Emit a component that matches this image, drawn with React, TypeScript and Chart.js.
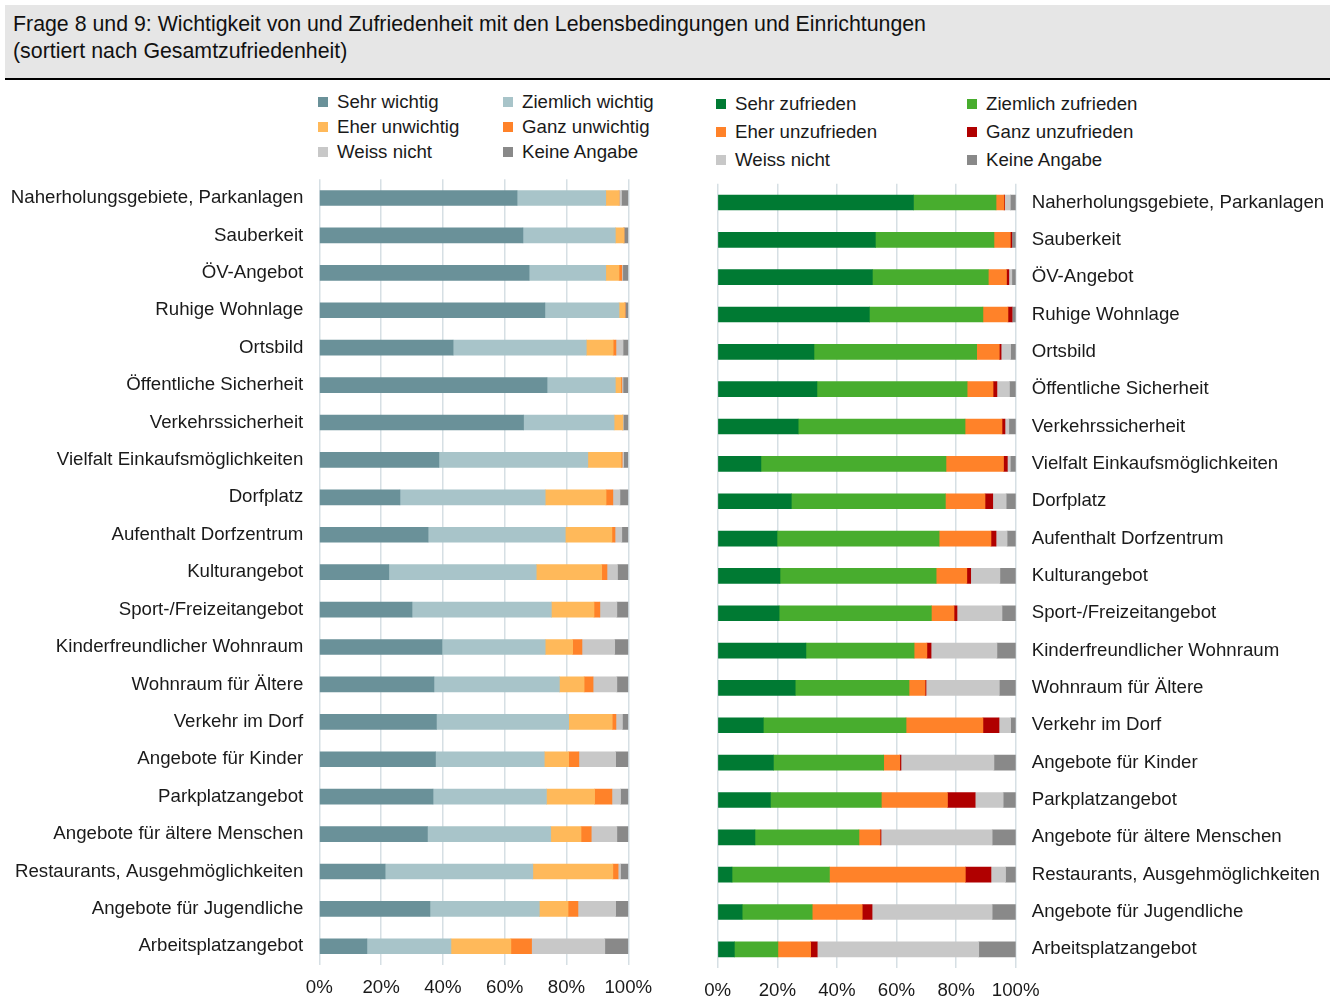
import React, { useEffect, useRef } from "react";
import Chart from "chart.js/auto";

const categories = [
  "Naherholungsgebiete, Parkanlagen",
  "Sauberkeit",
  "ÖV-Angebot",
  "Ruhige Wohnlage",
  "Ortsbild",
  "Öffentliche Sicherheit",
  "Verkehrssicherheit",
  "Vielfalt Einkaufsmöglichkeiten",
  "Dorfplatz",
  "Aufenthalt Dorfzentrum",
  "Kulturangebot",
  "Sport-/Freizeitangebot",
  "Kinderfreundlicher Wohnraum",
  "Wohnraum für Ältere",
  "Verkehr im Dorf",
  "Angebote für Kinder",
  "Parkplatzangebot",
  "Angebote für ältere Menschen",
  "Restaurants, Ausgehmöglichkeiten",
  "Angebote für Jugendliche",
  "Arbeitsplatzangebot",
];

// Wichtigkeit (Frage 8)
const sehrWichtig = [64.0, 65.9, 67.9, 73.0, 43.3, 73.7, 66.1, 38.7, 26.1, 35.2, 22.5, 30.0, 39.7, 37.1, 37.9, 37.6, 36.8, 35.0, 21.3, 35.8, 15.4];
const ziemlichWichtig = [28.7, 29.9, 24.8, 24.0, 43.1, 22.1, 29.3, 48.2, 47.0, 44.4, 47.7, 45.1, 33.4, 40.6, 42.8, 35.2, 36.7, 39.9, 47.8, 35.4, 27.2];
const eherUnwichtig = [4.3, 2.8, 4.3, 1.8, 8.7, 1.8, 2.8, 10.8, 19.7, 15.1, 21.2, 13.8, 8.9, 8.0, 14.1, 7.9, 15.6, 9.8, 25.9, 9.3, 19.4];
const ganzUnwichtig = [0.0, 0.0, 0.9, 0.2, 0.9, 0.3, 0.0, 0.3, 2.2, 1.0, 1.7, 1.9, 3.0, 2.9, 1.2, 3.3, 5.6, 3.3, 1.7, 3.2, 6.7];
const weissNichtW = [0.8, 0.0, 0.3, 0.0, 2.3, 0.4, 0.2, 0.5, 2.3, 2.2, 3.4, 5.5, 10.6, 7.7, 2.1, 11.9, 2.8, 8.3, 0.8, 12.2, 23.7];
const keineAngabeW = [2.2, 1.4, 1.8, 1.0, 1.7, 1.6, 1.6, 1.4, 2.7, 2.1, 3.5, 3.7, 4.4, 3.7, 1.9, 4.1, 2.5, 3.7, 2.5, 4.1, 7.6];

// Zufriedenheit (Frage 9)
const sehrZufrieden = [65.7, 52.9, 51.9, 50.9, 32.3, 33.3, 27.0, 14.5, 24.7, 19.9, 20.9, 20.6, 29.6, 26.0, 15.3, 18.7, 17.7, 12.5, 4.8, 8.2, 5.6];
const ziemlichZufrieden = [27.7, 39.8, 38.9, 38.1, 54.6, 50.4, 56.0, 62.1, 51.7, 54.4, 52.4, 51.1, 36.3, 38.2, 47.9, 37.0, 37.2, 34.9, 32.7, 23.5, 14.6];
const eherUnzufrieden = [2.7, 5.5, 6.1, 8.4, 7.6, 8.7, 12.4, 19.3, 13.3, 17.4, 10.3, 7.6, 4.3, 5.4, 25.8, 5.4, 22.2, 7.1, 45.6, 16.8, 11.0];
const ganzUnzufrieden = [0.2, 0.5, 0.8, 1.4, 0.6, 1.3, 1.0, 1.3, 2.6, 1.7, 1.3, 1.0, 1.4, 0.3, 5.4, 0.4, 9.3, 0.3, 8.6, 3.3, 2.2];
const weissNichtZ = [1.9, 0.0, 1.0, 0.0, 3.2, 4.2, 1.3, 1.0, 4.5, 3.7, 9.8, 15.1, 22.1, 24.6, 3.9, 31.2, 9.4, 37.3, 4.9, 40.3, 54.2];
const keineAngabeZ = [1.8, 1.3, 1.3, 1.2, 1.7, 2.1, 2.3, 1.8, 3.2, 2.9, 5.3, 4.6, 6.3, 5.5, 1.7, 7.3, 4.3, 7.9, 3.4, 7.9, 12.4];

const xTicks = [0, 20, 40, 60, 80, 100];

const leftSeries = [
  { label: "Sehr wichtig", data: sehrWichtig, color: "#6A9199" },
  { label: "Ziemlich wichtig", data: ziemlichWichtig, color: "#A8C4C9" },
  { label: "Eher unwichtig", data: eherUnwichtig, color: "#FFB95A" },
  { label: "Ganz unwichtig", data: ganzUnwichtig, color: "#FF8229" },
  { label: "Weiss nicht", data: weissNichtW, color: "#C8C8C8" },
  { label: "Keine Angabe", data: keineAngabeW, color: "#898989" },
];

const rightSeries = [
  { label: "Sehr zufrieden", data: sehrZufrieden, color: "#007A33" },
  { label: "Ziemlich zufrieden", data: ziemlichZufrieden, color: "#48AD2E" },
  { label: "Eher unzufrieden", data: eherUnzufrieden, color: "#FF8229" },
  { label: "Ganz unzufrieden", data: ganzUnzufrieden, color: "#B00000" },
  { label: "Weiss nicht", data: weissNichtZ, color: "#C8C8C8" },
  { label: "Keine Angabe", data: keineAngabeZ, color: "#898989" },
];

const FONT = "'Liberation Sans', Arial, sans-serif";
const TEXT = "#1a1a1a";
const FS = 18.67;

function makeChart(canvas: HTMLCanvasElement, series: any[], side: "left" | "right") {
  const font = { family: FONT, size: FS };
  return new Chart(canvas, {
    type: "bar",
    data: {
      labels: categories,
      datasets: series.map((s) => ({
        label: s.label,
        data: s.data,
        backgroundColor: s.color,
        borderWidth: 0,
        barThickness: 15,
      })),
    },
    options: {
      indexAxis: "y",
      responsive: false,
      animation: false,
      layout: {
        padding:
          side === "left"
            ? { top: 9.3, right: 41.7, left: 0, bottom: 0 }
            : { top: 13.8, right: 0, left: 27.7, bottom: 0 },
      },
      plugins: { legend: { display: false }, tooltip: { enabled: false } },
      scales: {
        x: {
          stacked: true,
          min: 0,
          max: 100,
          afterBuildTicks: (scale: any) => {
            scale.ticks = xTicks.map((v) => ({ value: v }));
          },
          ticks: {
            callback: (v: any) => v + "%",
            font,
            color: TEXT,
            padding: 12,
            maxRotation: 0,
          },
          grid: { color: "#D6DFE4", lineWidth: 1.5, drawTicks: false },
          border: { display: false },
          afterFit: (scale: any) => {
            scale.height = 36;
            scale.paddingLeft = 0;
            scale.paddingRight = 0;
          },
        },
        y: {
          stacked: true,
          position: side,
          grid: { display: false, drawTicks: false },
          border: { display: false },
          ticks: { font, color: TEXT, padding: 16, autoSkip: false },
          afterFit: (scale: any) => {
            scale.width = side === "left" ? 319.3 : 314.3;
            scale.paddingTop = 0;
            scale.paddingBottom = 0;
          },
        },
      },
    },
  } as any);
}

function Legend({ series, left, top, colGap, rowGap }: any) {
  return (
    <>
      {series.map((s: any, i: number) => {
        const col = i % 2;
        const row = Math.floor(i / 2);
        return (
          <div
            key={s.label}
            style={{
              position: "absolute",
              left: left + col * colGap,
              top: top + row * rowGap - 11,
              height: 22,
              display: "flex",
              alignItems: "center",
              fontFamily: FONT,
              fontSize: FS,
              color: TEXT,
              whiteSpace: "nowrap",
            }}
          >
            <span
              style={{
                display: "inline-block",
                width: 10,
                height: 10,
                background: s.color,
                marginRight: 9,
              }}
            />
            {s.label}
          </div>
        );
      })}
    </>
  );
}

export default function App() {
  const leftRef = useRef<HTMLCanvasElement>(null);
  const rightRef = useRef<HTMLCanvasElement>(null);

  useEffect(() => {
    const c1 = makeChart(leftRef.current!, leftSeries, "left");
    const c2 = makeChart(rightRef.current!, rightSeries, "right");
    return () => {
      c1.destroy();
      c2.destroy();
    };
  }, []);

  return (
    <div
      style={{
        position: "fixed",
        left: 0,
        top: 0,
        width: 1330,
        height: 1001,
        background: "#fff",
        overflow: "hidden",
      }}
    >
      <div
        style={{
          position: "absolute",
          left: 5,
          top: 5,
          width: 1325,
          height: 73,
          background: "#E6E6E6",
          borderBottom: "2px solid #000",
        }}
      />
      <div
        style={{
          position: "absolute",
          left: 13,
          top: 11,
          fontFamily: FONT,
          fontSize: 21.33,
          lineHeight: "27px",
          color: "#111",
          whiteSpace: "nowrap",
        }}
      >
        Frage 8 und 9: Wichtigkeit von und Zufriedenheit mit den Lebensbedingungen und Einrichtungen
        <br />
        (sortiert nach Gesamtzufriedenheit)
      </div>

      <Legend series={leftSeries} left={318} top={102} colGap={185} rowGap={25} />
      <Legend series={rightSeries} left={716} top={104} colGap={251} rowGap={28} />

      <canvas
        ref={leftRef}
        width={670}
        height={831}
        style={{ position: "absolute", left: 0, top: 170, width: 670, height: 831 }}
      />
      <canvas
        ref={rightRef}
        width={640}
        height={834}
        style={{ position: "absolute", left: 690, top: 170, width: 640, height: 834 }}
      />
    </div>
  );
}
